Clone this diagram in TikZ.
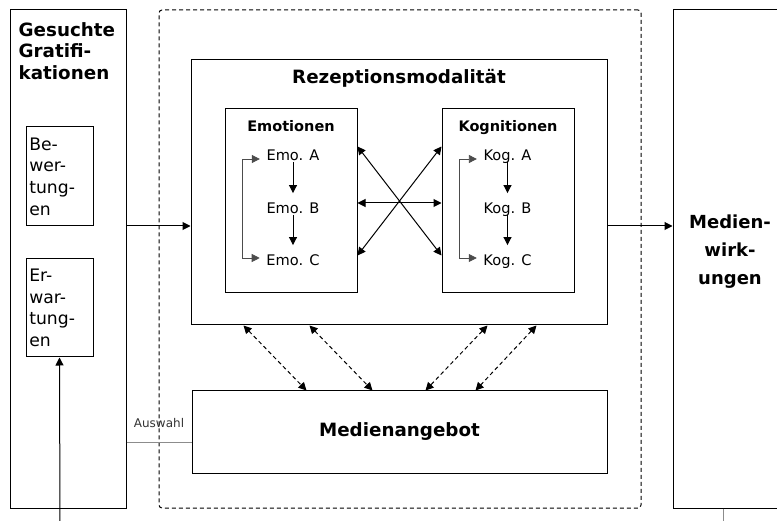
\documentclass[tikz,border=0pt]{standalone}
\usepackage{fontspec}
\setmainfont{DejaVu Sans}
\usepackage{tikz}
\usetikzlibrary{positioning,arrows.meta}

\begin{document}
\begin{tikzpicture}[
    x=1pt, y=-1pt,
    box/.style={draw, line width=1pt, inner sep=0pt},
    ttl/.style={font=\fontsize{18.3}{21.5}\selectfont\bfseries, inner sep=0pt, align=left},
    sub/.style={font=\fontsize{14.5}{17}\selectfont\bfseries, inner sep=0pt},
    itm/.style={font=\fontsize{14.6}{17}\selectfont, inner sep=1.5pt, text height=10.5pt, text depth=0pt},
    sbox/.style={box, inner xsep=3.3pt, text width=60.4pt, minimum width=67pt,
                 align=left, font=\fontsize{17.2}{21.7}\selectfont},
    arr/.style={-{Triangle[length=8pt,width=8pt]}, line width=1pt},
    dbl/.style={{Triangle[length=8pt,width=8pt]}-{Triangle[length=8pt,width=8pt]}, line width=1pt},
    dsh/.style={dbl, dash pattern=on 4pt off 3pt},
    fbk/.style={{Triangle[length=8pt,width=8pt]}-{Triangle[length=8pt,width=8pt]}, line width=0.8pt, black!70},
    gln/.style={line width=1pt, black!45}
  ]
    \useasboundingbox (0,0) rectangle (777,521);
    \clip (0,0) rectangle (777,521);

    \node[box, minimum width=116pt, minimum height=498pt] (grat) at (68,259) {};
    \node[ttl, anchor=north west] (gratt) at ([xshift=9pt, yshift=-12.5pt]grat.north west) {Gesuchte\\Gratifi-\\kationen};
    \node[sbox, minimum height=99pt] (bew) at (59.5,176.5) {Be-\\wer-\\tung-\\en};
    \node[sbox, minimum height=98pt] (erw) at (59.5,308) {Er-\\war-\\tung-\\en};

    \node[draw, line width=1pt, dash pattern=on 4pt off 3pt, rounded corners=3pt,
          minimum width=482pt, minimum height=498pt] (frm) at (400,259) {};

    \node[box, minimum width=416pt, minimum height=265pt] (rez) at (399,192.5) {};
    \node[ttl, below=10pt of rez.north] (rezt) {Rezeptionsmodalität};

    \node[box, minimum width=132pt, minimum height=184pt] (emo) at (291,201) {};
    \node[sub, below=11.5pt of emo.north] (emot) {Emotionen};
    \node[itm] (ea) at (293,155) {Emo. A};
    \node[itm] (eb) at (293,208) {Emo. B};
    \node[itm] (ec) at (293,260) {Emo. C};

    \node[box, minimum width=132pt, minimum height=184pt] (kog) at (508,201) {};
    \node[sub, below=11.5pt of kog.north] (kogt) {Kognitionen};
    \node[itm] (ka) at (507.5,155) {Kog. A};
    \node[itm] (kb) at (507.5,208) {Kog. B};
    \node[itm] (kc) at (507.5,260) {Kog. C};

    \node[box, minimum width=415pt, minimum height=82pt,
          font=\fontsize{18.3}{21.5}\selectfont\bfseries] (ang) at (399.5,432) {Medienangebot};

    \node[box, minimum width=114pt, minimum height=498pt] (wirk) at (730,259) {};
    \node[ttl, align=center, font=\fontsize{18}{28}\selectfont\bfseries] (wirkt)
         at ([yshift=7pt]wirk.center) {Medien-\\wirk-\\ungen};

    \coordinate (lvl) at (0,226);
    \draw[arr] (grat.east |- lvl) -- (rez.west |- lvl);
    \draw[arr] (rez.east |- lvl) -- (wirk.west |- lvl);

    \draw[arr] (ea.south) -- ([yshift=8pt]eb.north);
    \draw[arr] (eb.south) -- ([yshift=8pt]ec.north);
    \draw[fbk] ([xshift=-5pt, yshift=-4pt]ea.west) -- ++(-17,0) |- ([xshift=-5pt, yshift=2pt]ec.west);
    \draw[arr] (ka.south) -- ([yshift=8pt]kb.north);
    \draw[arr] (kb.south) -- ([yshift=8pt]kc.north);
    \draw[fbk] ([xshift=-5pt, yshift=-4pt]ka.west) -- ++(-17,0) |- ([xshift=-5pt, yshift=2pt]kc.west);

    \draw[dbl] ([yshift=-2pt]emo.east) -- ([yshift=-2pt]kog.west);
    \draw[dbl] ([yshift=-38pt]emo.north east) -- ([yshift=38pt]kog.south west);
    \draw[dbl] ([yshift=38pt]emo.south east) -- ([yshift=-38pt]kog.north west);

    \foreach \a/\b in {53/115,119/181,297/234,346/284}
      \draw[dsh] ([xshift=\a pt]rez.south west) -- ([xshift=\b pt]ang.north west);

    \coordinate (sel) at (0,442);
    \draw[gln] (grat.east |- sel) -- node[above=14pt, inner sep=0pt, text=black!80,
          font=\fontsize{12}{14}\selectfont] {Auswahl} (ang.west |- sel);

    \coordinate (inp) at (60,530);
    \draw[arr] (inp) -- (erw.south);
    \coordinate (outp) at (723,530);
    \draw[gln] (wirk.south -| outp) -- (outp);
  \end{tikzpicture}
\end{document}
